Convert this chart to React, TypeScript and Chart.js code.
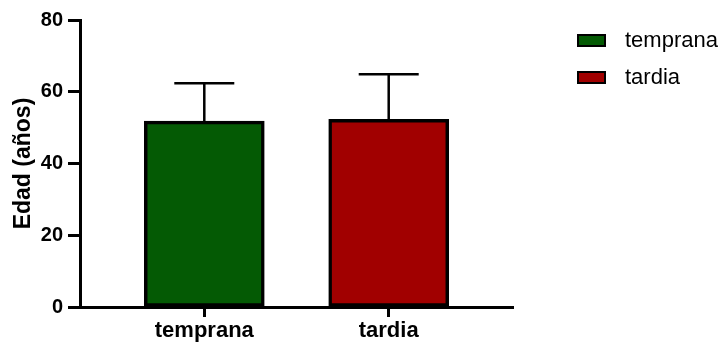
import React, { useEffect, useRef } from "react";
import { Chart, registerables } from "chart.js";

Chart.register(...registerables);

const categories = ["temprana", "tardia"];
const means = [51.8, 52.3];
const sds = [10.6, 12.6];
const colors = ["#045a04", "#a10000"];
const yTicks = [0, 20, 40, 60, 80];
const yTitle = "Edad (años)";

const FONT = "'Liberation Sans', Arial, Helvetica, sans-serif";

const errorBarPlugin = {
  id: "errorBars",
  afterDatasetsDraw(chart: any) {
    const { ctx, scales } = chart;
    const xs = scales.x;
    const ys = scales.y;
    ctx.save();
    ctx.strokeStyle = "#000";
    ctx.lineWidth = 2.5;
    ctx.lineCap = "butt";
    means.forEach((m, i) => {
      const x = xs.getPixelForValue(i);
      const yb = ys.getPixelForValue(m);
      const yt = ys.getPixelForValue(m + sds[i]);
      const half = 30;
      ctx.beginPath();
      ctx.moveTo(x, yb);
      ctx.lineTo(x, yt);
      ctx.moveTo(x - half, yt);
      ctx.lineTo(x + half, yt);
      ctx.stroke();
    });
    ctx.restore();
  },
};

export default function App() {
  const ref = useRef<HTMLCanvasElement | null>(null);

  useEffect(() => {
    if (!ref.current) return;
    const chart = new Chart(ref.current, {
      type: "bar",
      data: {
        datasets: [
          {
            label: "Edad",
            data: means.map((m, i) => ({ x: i, y: m })),
            backgroundColor: colors,
            borderColor: "#000",
            borderWidth: 3.5,
            borderSkipped: false,
            barThickness: 120,
          } as any,
        ],
      },
      options: {
        animation: false,
        responsive: false,
        maintainAspectRatio: false,
        layout: { padding: { left: 0, top: 20, right: 210, bottom: 0 } },
        plugins: {
          legend: { display: false },
          tooltip: { enabled: false },
        },
        scales: {
          x: {
            type: "linear",
            min: -0.674,
            max: 1.674,
            offset: false,
            afterBuildTicks: (scale: any) => {
              scale.ticks = categories.map((_, i) => ({ value: i }));
            },
            afterFit: (scale: any) => {
              scale.height = 39;
            },
            border: { display: true, color: "#000", width: 3 },
            grid: {
              offset: false,
              drawOnChartArea: false,
              drawTicks: true,
              tickLength: 10,
              tickWidth: 3,
              tickColor: "#000",
            },
            ticks: {
              color: "#000",
              padding: 1,
              maxRotation: 0,
              autoSkip: false,
              font: { family: FONT, size: 22, weight: "bold" },
              callback: (v: any) => categories[Number(v)] ?? "",
            },
          },
          y: {
            type: "linear",
            min: 0,
            max: 80,
            afterBuildTicks: (scale: any) => {
              scale.ticks = yTicks.map((v) => ({ value: v }));
            },
            afterFit: (scale: any) => {
              scale.width = 80;
            },
            border: { display: true, color: "#000", width: 3 },
            grid: {
              drawOnChartArea: false,
              drawTicks: true,
              tickLength: 12,
              tickWidth: 3,
              tickColor: "#000",
            },
            ticks: {
              color: "#000",
              padding: 5,
              font: { family: FONT, size: 20, weight: "bold" },
            },
            title: {
              display: true,
              text: yTitle,
              color: "#000",
              padding: { top: 10, bottom: 0 },
              font: { family: FONT, size: 23, weight: "bold" },
            },
          },
        },
      } as any,
      plugins: [errorBarPlugin],
    });
    return () => chart.destroy();
  }, []);

  return (
    <div style={{ position: "absolute", left: 0, top: 0, width: 723, height: 346, background: "#fff" }}>
      <canvas ref={ref} width={723} height={346} style={{ display: "block" }} />
      <div style={{ position: "absolute", left: 577, top: 30, fontFamily: FONT }}>
        {categories.map((c, i) => (
          <div key={c} style={{ display: "flex", alignItems: "center", height: 20, marginBottom: 17 }}>
            <div
              style={{
                width: 25,
                height: 9,
                background: colors[i],
                border: "2px solid #000",
                marginRight: 19,
              }}
            />
            <span style={{ fontSize: 22, color: "#000", lineHeight: "20px" }}>{c}</span>
          </div>
        ))}
      </div>
    </div>
  );
}
